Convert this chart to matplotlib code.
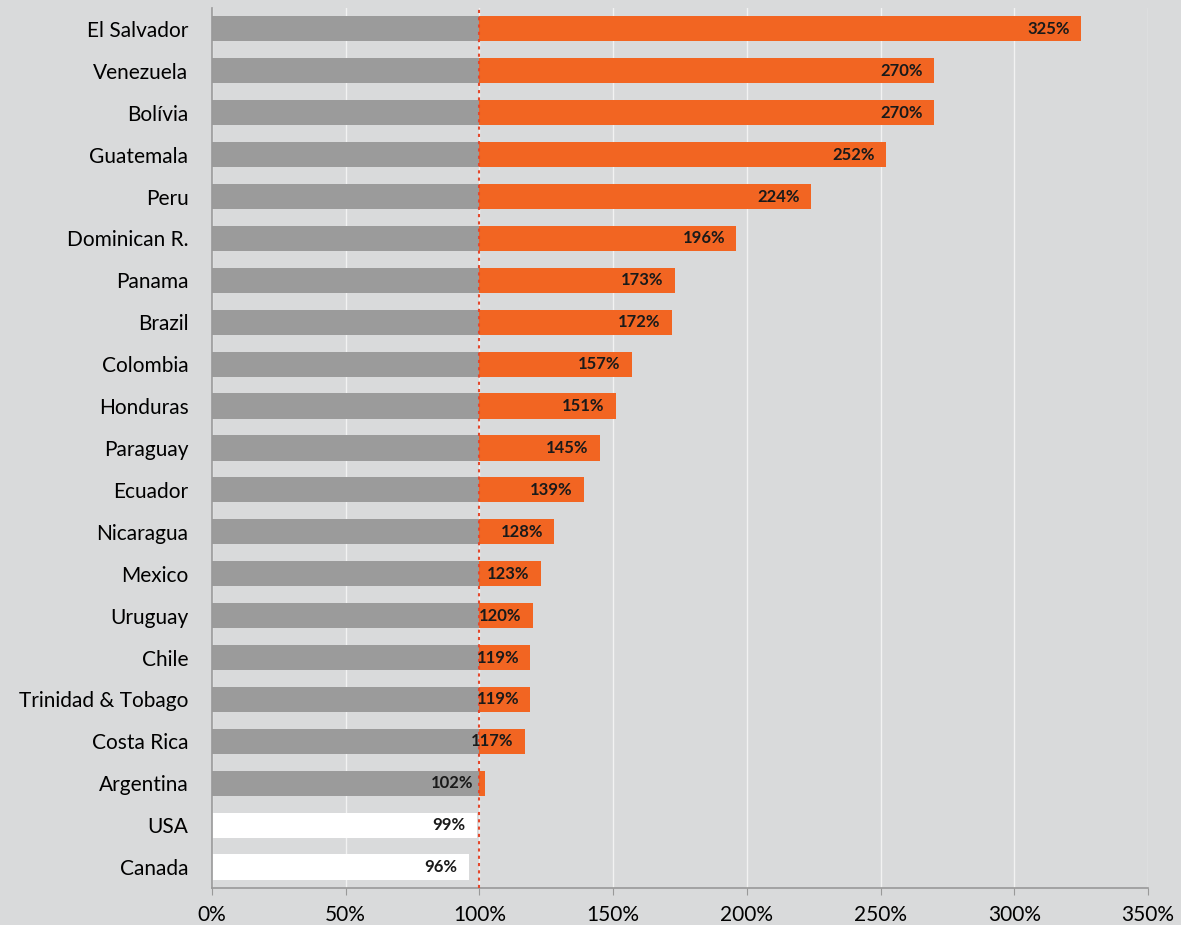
import matplotlib.pyplot as plt
import numpy as np

plt.rcParams['font.family'] = ['Lato', 'DejaVu Sans']

countries = ['El Salvador', 'Venezuela', 'Bolívia', 'Guatemala', 'Peru',
             'Dominican R.', 'Panama', 'Brazil', 'Colombia', 'Honduras',
             'Paraguay', 'Ecuador', 'Nicaragua', 'Mexico', 'Uruguay', 'Chile',
             'Trinidad & Tobago', 'Costa Rica', 'Argentina', 'USA', 'Canada']
values = [325, 270, 270, 252, 224, 196, 173, 172, 157, 151, 145, 139, 128,
          123, 120, 119, 119, 117, 102, 99, 96]
highlight = ['USA', 'Canada']

bg = '#d9dadb'
grey = '#9b9b9b'
orange = '#f26522'

fig = plt.figure(figsize=(11.81, 9.25), dpi=100, facecolor=bg)
ax = fig.add_axes([0.1795, 0.04, 0.7925, 0.9514])
ax.set_facecolor(bg)

y = np.arange(len(countries))
vals = np.array(values, dtype=float)
base = np.minimum(vals, 100)
extra = np.maximum(vals - 100, 0)
base_colors = ['white' if c in highlight else grey for c in countries]

ax.barh(y, base, height=0.6, color=base_colors, zorder=2)
ax.barh(y, extra, left=100, height=0.6, color=orange, zorder=2)

for yi, v in zip(y, values):
    ax.annotate(f'{v}%', xy=(v, yi), xytext=(-8, 0), textcoords='offset points',
                ha='right', va='center', fontsize=12, fontweight='bold',
                color='#1a1a1a', zorder=4)

ax.axvline(100, color='#e4482c', linestyle=(0, (1.5, 2)), linewidth=1.5, zorder=3)

ax.set_xlim(0, 350)
ax.set_ylim(len(countries) - 0.5, -0.5)
ax.set_xticks(np.arange(0, 351, 50))
ax.set_xticklabels([f'{t}%' for t in range(0, 351, 50)], fontsize=15)
ax.set_yticks(y)
ax.set_yticklabels(countries, fontsize=15)
ax.tick_params(axis='y', length=0, pad=17)
ax.tick_params(axis='x', length=5, color='#999999', pad=7)
ax.grid(axis='x', color='#f2f2f2', linewidth=1.0, zorder=0)
ax.set_axisbelow(True)

for s in ['top', 'right']:
    ax.spines[s].set_visible(False)
for s in ['left', 'bottom']:
    ax.spines[s].set_color('#999999')
    ax.spines[s].set_linewidth(1.2)

fig.savefig('out.png', dpi=100, facecolor=bg)
